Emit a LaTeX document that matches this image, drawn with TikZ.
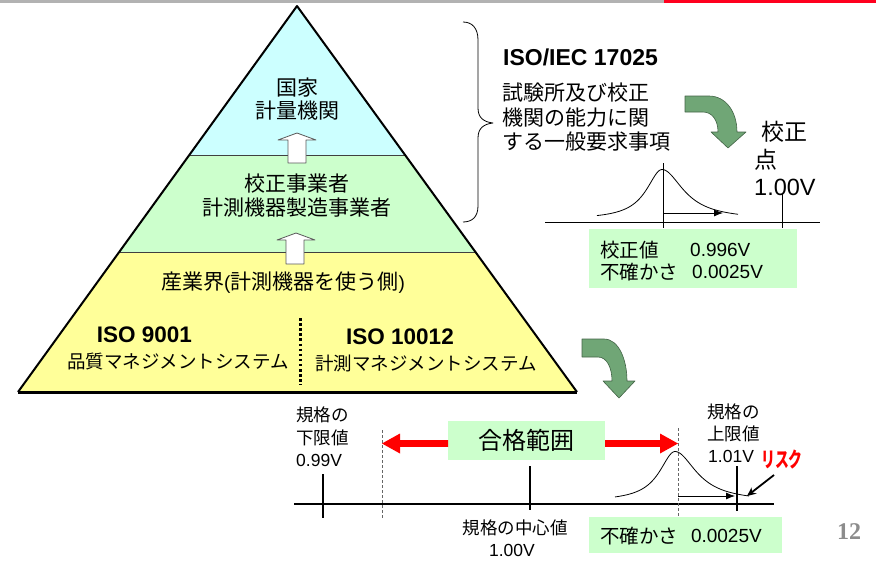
\documentclass[tikz,border=0pt]{standalone}
\usepackage{fontspec}
\setmainfont{Liberation Sans}
\newfontfamily\jp{Noto Sans CJK JP}
\newfontfamily\serifnum{Liberation Serif}
\usetikzlibrary{arrows.meta}
\definecolor{pyrblue}{RGB}{204,255,255}
\definecolor{pyrgreen}{RGB}{204,255,204}
\definecolor{pyryellow}{RGB}{255,255,153}
\definecolor{boxgreen}{RGB}{204,255,204}
\definecolor{arrgreen}{RGB}{112,166,118}
\definecolor{barred}{RGB}{255,0,30}
\definecolor{bargray}{RGB}{178,178,178}
\tikzset{
  pyrtext/.style={inner sep=0pt, font={\jp\fontsize{21}{25}\selectfont}},
  isotext/.style={inner sep=0pt, font={\bfseries\fontsize{22.5}{26}\selectfont}},
  systext/.style={inner sep=0pt, font={\jp\fontsize{18.5}{22}\selectfont}},
  rtext/.style={inner sep=0pt, anchor=west, font={\jp\fontsize{21}{25}\selectfont}},
  bigtext/.style={inner sep=0pt, anchor=west, font={\jp\fontsize{23}{27}\selectfont}},
  boxjp/.style={inner sep=0pt, anchor=west, font={\jp\fontsize{19.5}{23}\selectfont}},
  boxnum/.style={inner sep=0pt, anchor=west, font={\fontsize{19}{23}\selectfont}},
  smalljp/.style={inner sep=0pt, font={\jp\fontsize{17.5}{21}\selectfont}},
  smallnum/.style={inner sep=0pt, font={\fontsize{17.5}{21}\selectfont}},
  greenbox/.style={fill=boxgreen, inner sep=0pt},
  uparrow/.style={fill=white, draw=black!65, line width=0.8pt},
  bendarrow/.style={fill=arrgreen, draw=arrgreen!60!black, line width=0.6pt},
  redarrow/.style={fill=red, draw=none},
  tick/.style={line width=2pt},
  dashline/.style={draw=black!60, line width=0.7pt, dash pattern=on 3pt off 2pt},
  curve/.style={line width=0.8pt},
  harrow/.style={line width=0.8pt, -{Latex[length=9pt,width=7pt]}}
}
\begin{document}
\begin{tikzpicture}[x=1pt,y=-1pt,line join=round]
\useasboundingbox (0,0) rectangle (876,560);
% top bar
\fill[bargray] (0,0) rectangle (664,3);
\fill[barred] (664,0) rectangle (876,3);

% pyramid
\coordinate (apex) at (297,6);
\coordinate (bl) at (18,392);
\coordinate (br) at (577,392);
\coordinate (l1) at (189,155); \coordinate (r1) at (405,155);
\coordinate (l2) at (119,252); \coordinate (r2) at (475,252);
\fill[pyrblue] (apex) -- (r1) -- (l1) -- cycle;
\fill[pyrgreen] (l1) -- (r1) -- (r2) -- (l2) -- cycle;
\fill[pyryellow] (l2) -- (r2) -- (br) -- (bl) -- cycle;
\draw[line width=0.8pt, black!75] (l1) -- (r1) (l2) -- (r2);
\draw[line width=2pt] (bl) -- (apex) -- (br);
\draw[line width=3pt] (bl) -- (br);

% white up arrows
\draw[uparrow] (297,133) -- (316,140) -- (306,140) -- (306,163) -- (288,163) -- (288,140) -- (278,140) -- cycle;
\draw[uparrow] (296,233) -- (315,240) -- (304,240) -- (304,264) -- (286,264) -- (286,240) -- (277,240) -- cycle;

% pyramid texts
\node[pyrtext] (kokka) at (297,88) {国家};
\node[pyrtext] (keiryo) at (297,111) {計量機関};
\node[pyrtext] (kosei) at (297,184) {校正事業者};
\node[pyrtext] (seizo) at (297,207.5) {計測機器製造事業者};
\node[pyrtext] (sangyo) at (283,283) {産業界{\rmfamily\fontsize{19}{23}\selectfont(}計測機器を使う側{\rmfamily\fontsize{19}{23}\selectfont)}};
\node[isotext] (iso9001) at (144.5,335) {ISO 9001};
\node[systext] (hinshitsu) at (178,362) {品質マネジメントシステム};
\node[isotext] (iso10012) at (400,337) {ISO 10012};
\node[systext] (keisoku) at (426,363) {計測マネジメントシステム};
\coordinate (dotA) at (300.5,318);
\coordinate (dotB) at (300.5,385);
\draw[line width=2.5pt, dash pattern=on 2.5pt off 2.6pt] (dotA) -- (dotB);

% brace
\draw[line width=0.8pt] (463,22) .. controls (472,22) and (478,28) .. (478,40) -- (478,108)
  .. controls (478,118) and (484,122) .. (493,123)
  .. controls (484,124) and (478,128) .. (478,138) -- (478,206)
  .. controls (478,217) and (472,222) .. (463,222);

% right texts
\node[inner sep=0pt, anchor=west, font={\bfseries\fontsize{23}{27}\selectfont}] (iec) at (503,57) {ISO/IEC 17025};
\node[rtext] (req1) at (502,93) {試験所及び校正};
\node[rtext] (req2) at (502,118) {機関の能力に関};
\node[rtext] (req3) at (502,142) {する一般要求事項};

% green bent arrows
\draw[bendarrow] (685,96) -- (709,96) .. controls (726,96) and (737,112) .. (737,132) -- (746,132) -- (728,148) -- (711,132) -- (718,132)
  .. controls (718,120) and (712,112) .. (703,112) -- (685,112) -- cycle;
\draw[bendarrow] (582,339) -- (604,339) .. controls (619,339) and (627,360) .. (627,381) -- (635,381) -- (619,398) -- (603,381) -- (612,381)
  .. controls (612,368) and (607,357) .. (598,357) -- (582,357) -- cycle;

% calibration point text
\node[bigtext] (kp1) at (761,132) {校正};
\node[bigtext] (kp2) at (754,160) {点};
\node[inner sep=0pt, anchor=west, font={\fontsize{23.5}{27}\selectfont}] (kp3) at (754,187) {1.00V};

% top plot
\coordinate (ax1a) at (545,222); \coordinate (ax1b) at (820,222);
\draw[line width=1pt] (ax1a) -- (ax1b);
\coordinate (v1a) at (663,163); \coordinate (v1b) at (663,228);
\draw[line width=1pt] (v1a) -- (v1b);
\coordinate (v2a) at (782,193); \coordinate (v2b) at (782,228);
\draw[line width=1pt] (v2a) -- (v2b);
\draw[curve] plot[domain=597:662, samples=50, smooth] (\x, {219.5 - 50/(1+((\x-662)/19)^2)});
\draw[curve] plot[domain=662:738, samples=50, smooth] (\x, {219.5 - 50/(1+((\x-662)/26)^2)});
\coordinate (h1a) at (663,213); \coordinate (h1b) at (723,213);
\draw[harrow] (h1a) -- (h1b);

% box 1
\node[greenbox, minimum width=208pt, minimum height=59pt] (box1) at (693,258.5) {};
\node[boxjp] (kv1) at (600,250) {校正値};
\node[boxnum] (kv2) at (690,250) {0.996V};
\node[boxjp] (kv3) at (600,272) {不確かさ};
\node[boxnum] (kv4) at (692,272) {0.0025V};

% bottom axis
\coordinate (ax2a) at (294,504); \coordinate (ax2b) at (774,504);
\draw[tick] (ax2a) -- (ax2b);
\coordinate (t1a) at (323,474); \coordinate (t1b) at (323,518);
\draw[tick] (t1a) -- (t1b);
\coordinate (t2a) at (530,466); \coordinate (t2b) at (530,510);
\draw[tick] (t2a) -- (t2b);
\coordinate (t3a) at (737,466); \coordinate (t3b) at (737,511);
\draw[tick] (t3a) -- (t3b);
\coordinate (d1a) at (382,430); \coordinate (d1b) at (382,518);
\draw[dashline] (d1a) -- (d1b);
\coordinate (d2a) at (678,428); \coordinate (d2b) at (678,518);
\draw[dashline] (d2a) -- (d2b);

% pass range
\node[greenbox, minimum width=157pt, minimum height=39pt, font={\jp\fontsize{24}{28}\selectfont}] (gokaku) at (526.5,440.5) {合格範囲};
\fill[redarrow] (382,443.5) -- (400,433.5) -- (400,440.2) -- (448,440.2) -- (448,446.8) -- (400,446.8) -- (400,453.5) -- cycle;
\fill[redarrow] (678,443.5) -- (660,433.5) -- (660,440.2) -- (605,440.2) -- (605,446.8) -- (660,446.8) -- (660,453.5) -- cycle;

% bottom curve
\draw[curve] plot[domain=615:675, samples=50, smooth] (\x, {501.5 - 50/(1+((\x-675)/19)^2)});
\draw[curve] plot[domain=675:749, samples=50, smooth] (\x, {501.5 - 50/(1+((\x-675)/26)^2)});
\coordinate (h2a) at (678,496); \coordinate (h2b) at (735,496);
\draw[harrow] (h2a) -- (h2b);

% labels
\node[smalljp, anchor=west] (lo1) at (296,415) {規格の};
\node[smalljp, anchor=west] (lo2) at (296,438) {下限値};
\node[smallnum, anchor=west] (lo3) at (296,460) {0.99V};
\node[smalljp, anchor=west] (up1) at (707,412) {規格の};
\node[smalljp, anchor=west] (up2) at (707,434) {上限値};
\node[smallnum, anchor=west] (up3) at (708,456) {1.01V};
\node[smalljp] (ce1) at (515,528) {規格の中心値};
\node[smallnum] (ce2) at (512,550) {1.00V};

% risk
\node[inner sep=0pt, text=red, xscale=0.66, font={\jp\bfseries\fontsize{21}{24}\selectfont}] (risk) at (782,459) {リスク};
\coordinate (ra) at (774,475); \coordinate (rb) at (747,496);
\draw[line width=1.8pt, -{Stealth[length=9pt,width=8pt]}] (ra) -- (rb);

% box 2
\node[greenbox, minimum width=193pt, minimum height=36pt] (box2) at (685.5,535) {};
\node[boxjp] (un1) at (600,536) {不確かさ};
\node[boxnum, anchor=east] (un2) at (762,536) {0.0025V};

% page number
\node[inner sep=0pt, text=black!45, font={\serifnum\bfseries\fontsize{24}{28}\selectfont}] (pnum) at (849,532) {12};
\end{tikzpicture}
\end{document}
